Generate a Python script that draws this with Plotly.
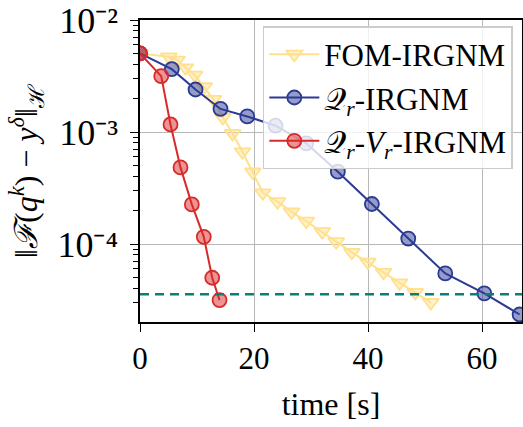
import plotly.graph_objects as go

# ---- data ----
fom_time = [0.0, 5.05, 6.53, 7.98, 9.61, 11.26, 12.89, 14.53, 16.23, 17.98, 19.79,
            21.54, 24.12, 26.58, 29.16, 31.96, 34.42, 37.16, 39.96, 42.72, 45.53, 48.28, 51.02]
fom_err = [5.04e-3, 4.70e-3, 4.40e-3, 3.75e-3, 3.23e-3, 2.54e-3, 1.96e-3, 1.35e-3, 9.73e-4,
           6.67e-4, 4.40e-4, 2.87e-4, 2.39e-4, 1.94e-4, 1.60e-4, 1.29e-4, 1.05e-4, 8.44e-5,
           6.91e-5, 5.59e-5, 4.51e-5, 3.70e-5, 3.01e-5]

qr_time = [0.0, 5.58, 9.74, 14.12, 18.81, 23.77, 29.16, 34.7, 40.67, 47.05, 53.54, 60.39, 66.58]
qr_err = [5.04e-3, 3.65e-3, 2.40e-3, 1.61e-3, 1.38e-3, 1.14e-3, 7.93e-4, 4.43e-4, 2.28e-4,
          1.12e-4, 5.47e-5, 3.63e-5, 2.35e-5]

qrvr_time = [0.0, 3.72, 5.35, 7.1, 9.09, 11.19, 12.67, 13.95]
qrvr_err = [5.04e-3, 3.16e-3, 1.17e-3, 4.84e-4, 2.26e-4, 1.16e-4, 5.0e-5, 3.16e-5]

noise_level = 3.56e-5

series_names = ["FOM-IRGNM", "𝒬<sub><i>r</i></sub>-IRGNM", "𝒬<sub><i>r</i></sub>-<i>V</i><sub><i>r</i></sub>-IRGNM"]

x_ticks = [0, 20, 40, 60]
x_range = [0, 67]
y_ticks = [1e-4, 1e-3, 1e-2]
y_tick_labels = ["10⁻⁴", "10⁻³", "10⁻²"]
y_range_log = [-4.696, -1.999]

FONT = "Liberation Serif"

fig = go.Figure()

fig.add_trace(go.Scatter(
    x=fom_time, y=fom_err, mode="lines+markers", name=series_names[0],
    line=dict(color="#ffe08c", width=2),
    marker=dict(symbol="triangle-down", size=14, color="rgba(255,224,140,0.45)",
                line=dict(color="#ffe08c", width=1.8)),
))
fig.add_trace(go.Scatter(
    x=qr_time, y=qr_err, mode="lines+markers", name=series_names[1],
    line=dict(color="#2b3a94", width=2),
    marker=dict(symbol="circle", size=14, color="rgba(43,58,148,0.5)",
                line=dict(color="#2b3a94", width=1.8)),
))
fig.add_trace(go.Scatter(
    x=qrvr_time, y=qrvr_err, mode="lines+markers", name=series_names[2],
    line=dict(color="#d92a2a", width=2),
    marker=dict(symbol="circle", size=14, color="rgba(217,42,42,0.5)",
                line=dict(color="#d92a2a", width=1.8)),
))

fig.add_hline(y=noise_level, line=dict(color="#0a7f7a", width=2.5, dash="9px,6px"), layer="above")

fig.update_layout(
    width=523, height=427,
    margin=dict(l=140, r=1, t=20, b=105),
    paper_bgcolor="white", plot_bgcolor="white",
    font=dict(family=FONT, size=31, color="black"),
    showlegend=True,
    legend=dict(
        x=0.976, xanchor="right", y=0.98, yanchor="top",
        bgcolor="rgba(255,255,255,0.8)", bordercolor="#cccccc", borderwidth=1.5,
        font=dict(family=FONT, size=31), tracegroupgap=0, itemwidth=50,
    ),
)

fig.update_xaxes(
    range=x_range, tickvals=x_ticks, ticks="outside", ticklen=8, tickwidth=1.2,
    tickcolor="black", showline=True, linecolor="black", linewidth=1.5, mirror=True,
    showgrid=True, gridcolor="#b8b8b8", gridwidth=1, zeroline=False, automargin=False,
    title=dict(text="time [s]", standoff=18, font=dict(size=32)),
    tickfont=dict(size=31),
)
fig.update_yaxes(
    type="log", range=y_range_log, tickvals=y_ticks, ticktext=y_tick_labels,
    ticks="outside", ticklen=8, tickwidth=1.2, tickcolor="black",
    showline=True, linecolor="black", linewidth=1.5, mirror=True,
    showgrid=True, gridcolor="#b8b8b8", gridwidth=1, zeroline=False, automargin=False,
    ticklabeloverflow="allow", ticklabelstandoff=5,
    minor=dict(ticks="outside", ticklen=5, tickcolor="black", showgrid=False, dtick="D1"),
    title=dict(text="‖<i>ℱ</i>(<i>q</i><sup><i>k</i></sup>) − <i>y</i><sup><i>δ</i></sup>‖<sub>ℋ</sub>",
               standoff=10, font=dict(family=FONT, size=32)),
    tickfont=dict(size=36),
)

fig.write_html(
    "out.html",
    config={"displayModeBar": False},
    post_script="document.body.style.margin='0';document.body.style.overflow='hidden';",
)
